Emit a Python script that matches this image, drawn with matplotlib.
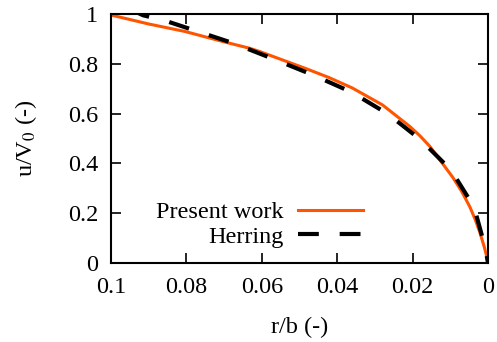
import numpy as np
import matplotlib
matplotlib.use('Agg')
import matplotlib.pyplot as plt

plt.rcParams['font.family'] = ['Liberation Serif', 'DejaVu Serif']
plt.rcParams['mathtext.fontset'] = 'stix'

# present work
r_present = [0.1, 0.09, 0.0804, 0.0702, 0.0631, 0.0605, 0.0485, 0.0422, 0.036, 0.028,
             0.0207, 0.018, 0.0154, 0.0093, 0.007, 0.0048, 0.0034, 0.0021, 0.001, 0.0003, 0.0]
u_present = [0.996, 0.96, 0.93, 0.889, 0.862, 0.849, 0.782, 0.745, 0.703, 0.635,
             0.548, 0.51, 0.468, 0.343, 0.288, 0.225, 0.175, 0.12, 0.065, 0.024, 0.0]

# Herring
r_herring = [0.095, 0.0915, 0.086, 0.0782, 0.0676, 0.057, 0.0464, 0.0363, 0.0265,
             0.0178, 0.0098, 0.0037, 0.0007, 0.0]
u_herring = [1.02, 0.995, 0.975, 0.936, 0.883, 0.82, 0.755, 0.687, 0.598,
             0.494, 0.373, 0.225, 0.06, 0.0]

xticks = [0.1, 0.08, 0.06, 0.04, 0.02, 0.0]
xticklabels = ['0.1', '0.08', '0.06', '0.04', '0.02', '0']
yticks = [0, 0.2, 0.4, 0.6, 0.8, 1.0]
yticklabels = ['0', '0.2', '0.4', '0.6', '0.8', '1']

fig = plt.figure(figsize=(4.97, 3.42), dpi=100)
ax = fig.add_axes([0.2233, 0.231, 0.7586, 0.728])

ax.plot(r_present, u_present, color='#ff5400', lw=2.2, label='Present work')
ax.plot(r_herring, u_herring, color='black', lw=3, dashes=[5, 5], label='Herring')

ax.set_xlim(0.1, 0.0)
ax.set_ylim(0, 1)
ax.set_xticks(xticks)
ax.set_xticklabels(xticklabels)
ax.set_yticks(yticks)
ax.set_yticklabels(yticklabels)

ax.tick_params(direction='in', length=7, width=1.2, top=True, right=True, labelsize=17.5)
ax.tick_params(axis='x', pad=10)
ax.tick_params(axis='y', pad=9)
for s in ax.spines.values():
    s.set_linewidth(1.5)

ax.set_xlabel('r/b (-)', fontsize=17.5, labelpad=14)
ax.set_ylabel('u/V$_0$ (-)', fontsize=17.5, labelpad=21)

ax.legend(loc='center', bbox_to_anchor=(0.393, 0.155), frameon=False, markerfirst=False,
          fontsize=17.5, handlelength=2.67, handletextpad=0.6, borderpad=0,
          borderaxespad=0, labelspacing=0.1)

fig.savefig('out.png', dpi=100)
